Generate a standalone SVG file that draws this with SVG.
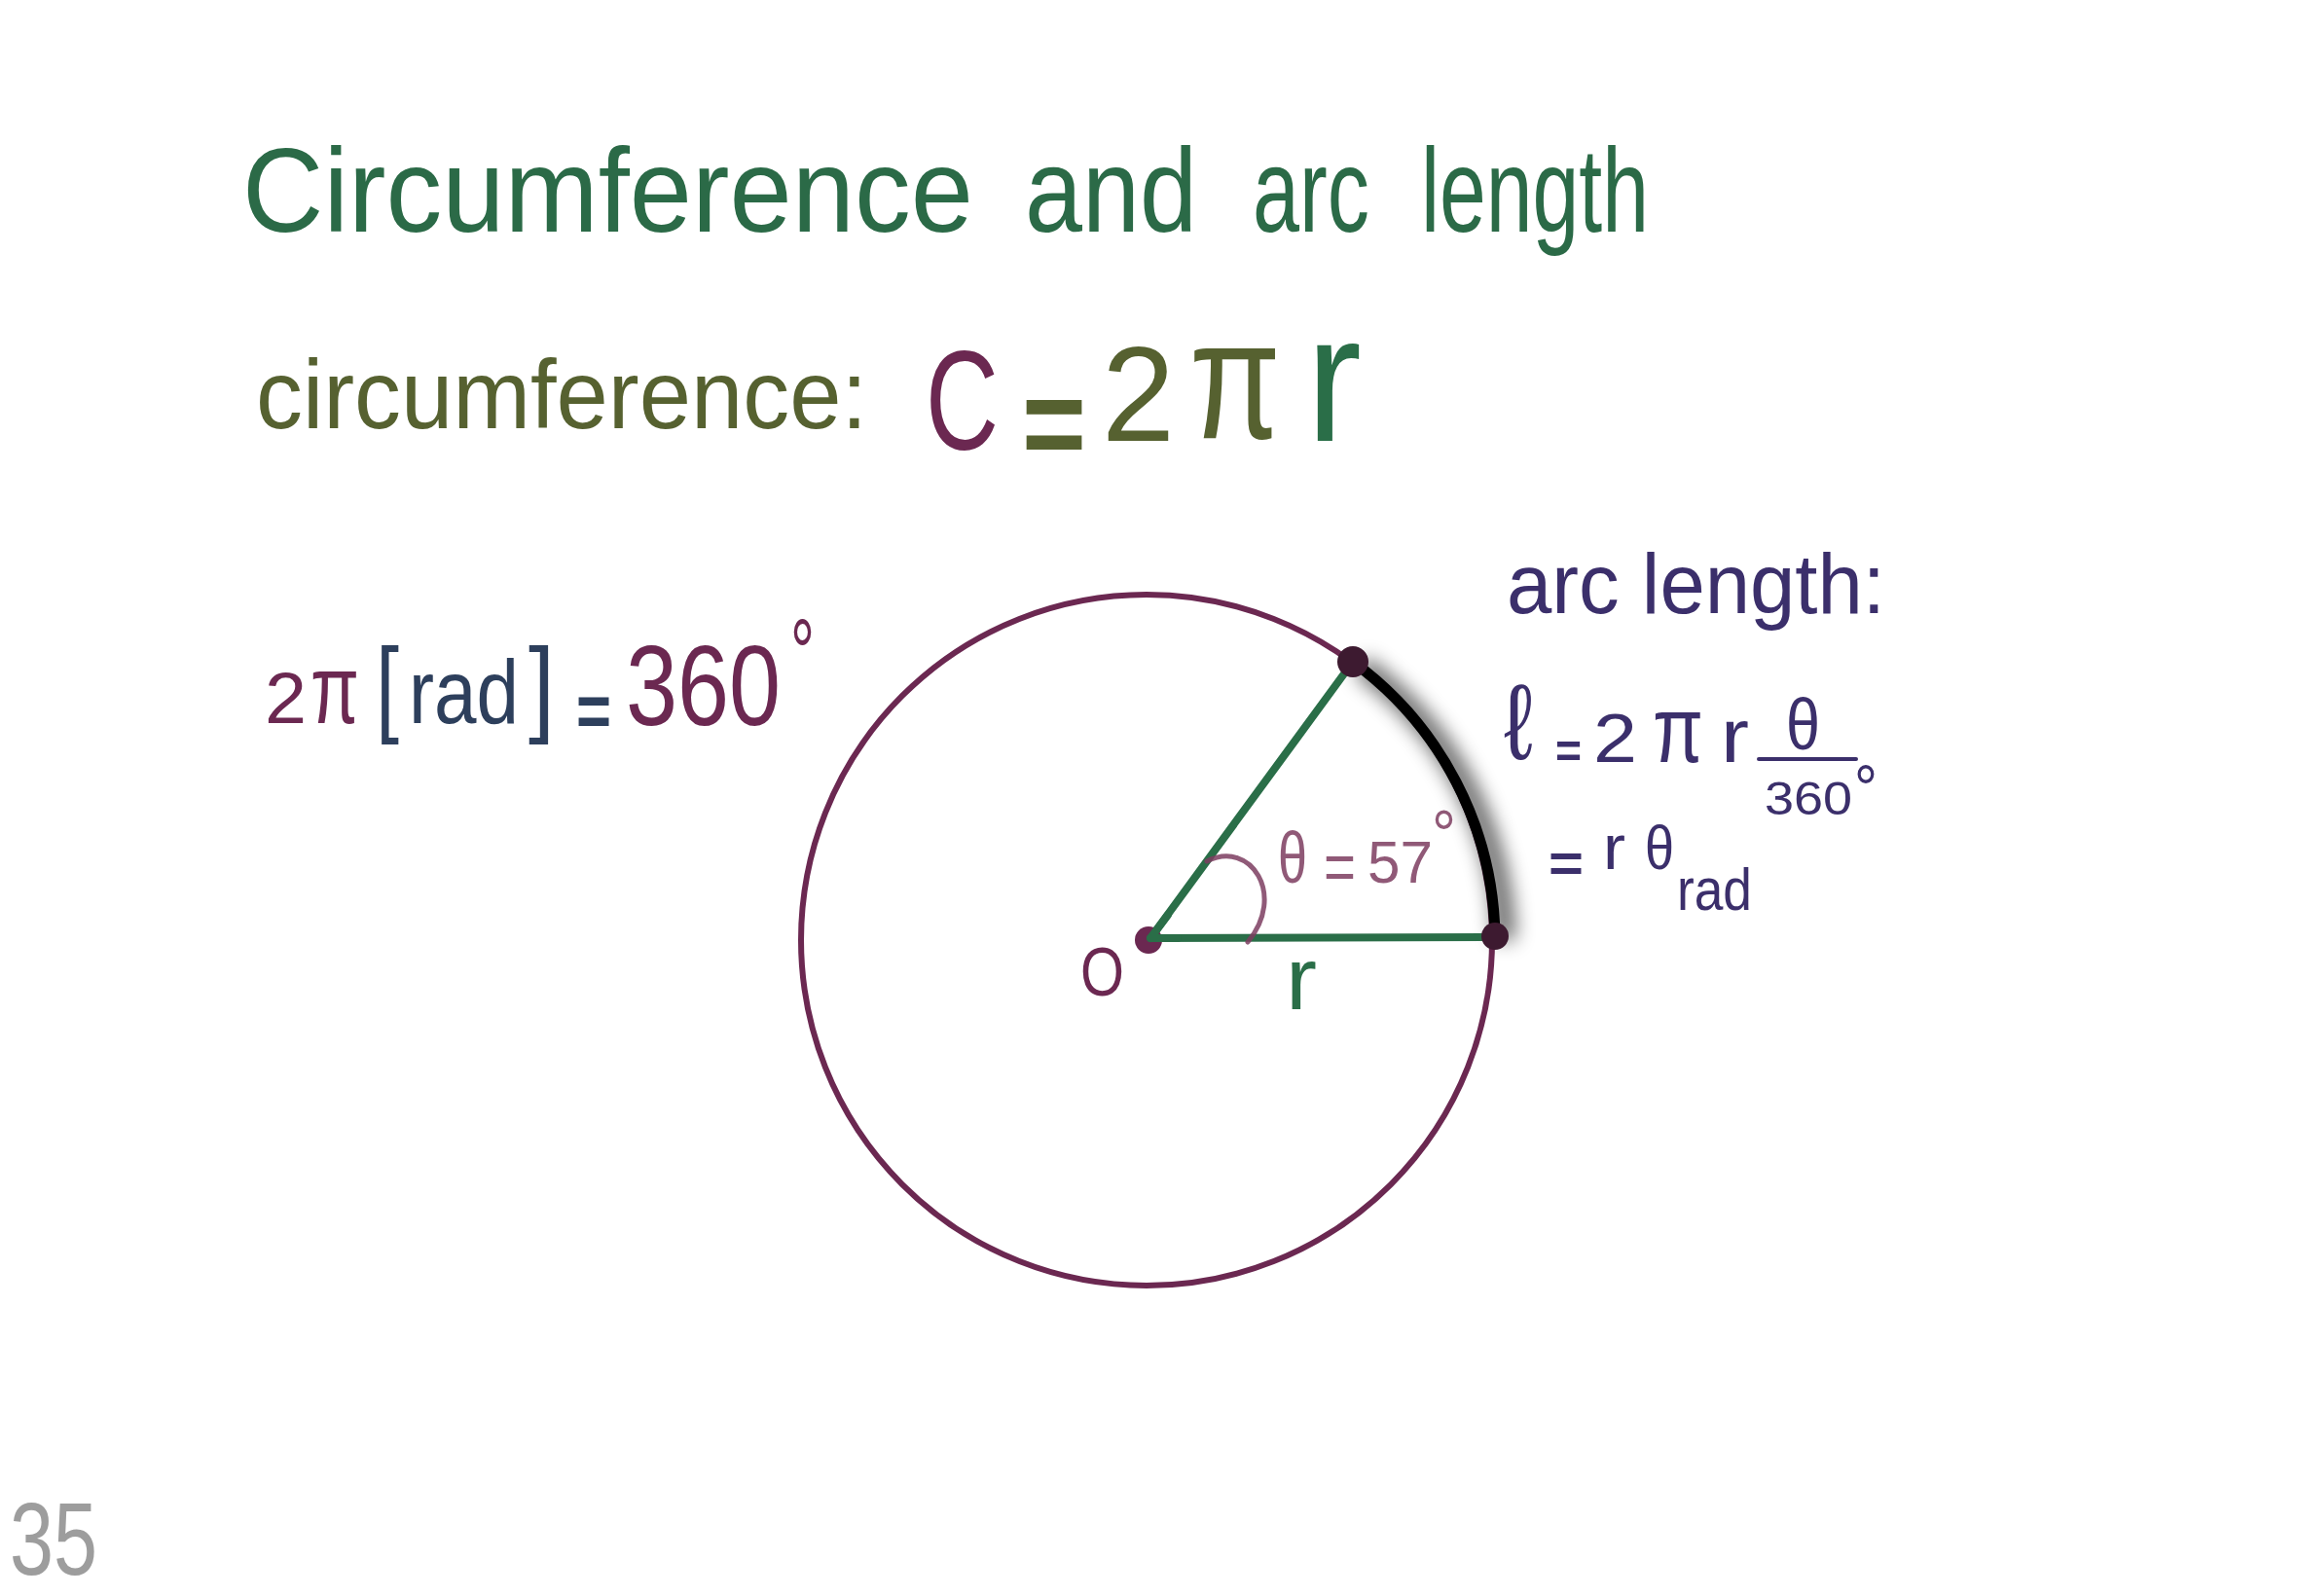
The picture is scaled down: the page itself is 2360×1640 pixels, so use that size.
<svg xmlns="http://www.w3.org/2000/svg" width="2360" height="1640" viewBox="0 0 2360 1640">
  <style>
    text { font-family: "Liberation Sans", Arial, sans-serif; }
    .title { fill: #2b6a47; font-size: 122px; }
    .olive { fill: #566130; }
    .maroon { fill: #6b2851; }
    .navy { fill: #2d3f5c; }
    .purple { fill: #3b2f6b; }
    .green { fill: #2a6e48; }
    .pencil { fill: #7d3d60; }
    .gray { fill: #8c8c8c; }
    .eq { font-weight: bold; }
  </style>
  <defs>
    <filter id="blur" x="-50%" y="-50%" width="200%" height="200%">
      <feGaussianBlur stdDeviation="10"/>
    </filter>
  </defs>
  <rect width="2360" height="1640" fill="#ffffff"/>

  <g id="title">
    <text class="title" x="249" y="238" textLength="751" lengthAdjust="spacingAndGlyphs">Circumference</text>
    <text class="title" x="1053" y="238" textLength="177" lengthAdjust="spacingAndGlyphs">and</text>
    <text class="title" x="1287" y="238" textLength="120" lengthAdjust="spacingAndGlyphs">arc</text>
    <text class="title" x="1460" y="238" textLength="234" lengthAdjust="spacingAndGlyphs">length</text>
  </g>

  <g id="circumference-formula">
    <text class="olive" x="263" y="440" font-size="100" textLength="628" lengthAdjust="spacingAndGlyphs">circumference:</text>
    <text class="maroon" x="951" y="462" font-size="145" textLength="75" lengthAdjust="spacingAndGlyphs">C</text>
    <text class="olive eq" x="1050" y="481" font-size="136" textLength="66" lengthAdjust="spacingAndGlyphs">=</text>
    <text class="olive" x="1132" y="453" font-size="140" textLength="75" lengthAdjust="spacingAndGlyphs">2</text>
    <text class="olive" x="1222" y="450" font-size="175" textLength="94" lengthAdjust="spacingAndGlyphs">π</text>
    <text class="green" x="1342" y="453" font-size="185" textLength="57" lengthAdjust="spacingAndGlyphs">r</text>
  </g>

  <g id="radian-equation">
    <text class="maroon" x="272" y="743" font-size="74" textLength="43" lengthAdjust="spacingAndGlyphs">2</text>
    <text class="maroon" x="319" y="743" font-size="100" textLength="50" lengthAdjust="spacingAndGlyphs">π</text>
    <text class="navy" x="386" y="742" font-size="110" textLength="24" lengthAdjust="spacingAndGlyphs">[</text>
    <text class="navy" transform="translate(420,743) scale(0.85,1)" font-size="92">rad</text>
    <text class="navy" x="543" y="742" font-size="110" textLength="27" lengthAdjust="spacingAndGlyphs">]</text>
    <text class="navy eq" x="592" y="757" font-size="77" textLength="36" lengthAdjust="spacingAndGlyphs">=</text>
    <text class="maroon" transform="translate(643,745) scale(0.822,1)" font-size="116">360</text>
    <text class="maroon" x="812" y="704" font-size="96" textLength="25" lengthAdjust="spacingAndGlyphs">°</text>
  </g>

  <g id="arc-length-formula">
    <text class="purple" x="1548" y="630" font-size="88" textLength="389" lengthAdjust="spacingAndGlyphs">arc length:</text>
    <text class="purple" x="1545" y="780" font-size="110" textLength="30" lengthAdjust="spacingAndGlyphs">ℓ</text>
    <text class="purple eq" x="1598" y="789" font-size="50" textLength="27" lengthAdjust="spacingAndGlyphs">=</text>
    <text class="purple" x="1637" y="783" font-size="70" textLength="45" lengthAdjust="spacingAndGlyphs">2</text>
    <text class="purple" x="1698" y="783" font-size="96" textLength="52" lengthAdjust="spacingAndGlyphs">π</text>
    <text class="purple" x="1768" y="783" font-size="77" textLength="29" lengthAdjust="spacingAndGlyphs">r</text>
    <text class="purple" x="1835" y="770" font-size="75" textLength="35" lengthAdjust="spacingAndGlyphs">θ</text>
    <line x1="1807" y1="780" x2="1907" y2="780" stroke="#3b2f6b" stroke-width="4" stroke-linecap="round"/>
    <text class="purple" x="1813" y="837" font-size="48" textLength="90" lengthAdjust="spacingAndGlyphs">360</text>
    <text class="purple" x="1905" y="834" font-size="68" textLength="24" lengthAdjust="spacingAndGlyphs">°</text>
    <text class="purple eq" x="1591" y="906" font-size="55" textLength="36" lengthAdjust="spacingAndGlyphs">=</text>
    <text class="purple" x="1647" y="893" font-size="64" textLength="23" lengthAdjust="spacingAndGlyphs">r</text>
    <text class="purple" x="1690" y="893" font-size="63" textLength="30" lengthAdjust="spacingAndGlyphs">θ</text>
    <text class="purple" x="1723" y="935" font-size="62" textLength="77" lengthAdjust="spacingAndGlyphs">rad</text>
  </g>

  <g id="circle-diagram">
    <circle cx="1178" cy="966" r="355" fill="none" stroke="#6b2851" stroke-width="6"/>
    <path d="M1398,684 A356,356 0 0 1 1546,966" fill="none" stroke="#000" stroke-width="22" opacity="0.6" filter="url(#blur)"/>
    <path d="M1390,680 A356,356 0 0 1 1536,962" fill="none" stroke="#000000" stroke-width="11" stroke-linecap="round"/>
    <line x1="1182" y1="964" x2="1390" y2="680" stroke="#2a6e48" stroke-width="8" stroke-linecap="round"/>
    <line x1="1182" y1="964" x2="1536" y2="963" stroke="#2a6e48" stroke-width="8" stroke-linecap="round"/>
    <circle cx="1180" cy="966" r="14" fill="#6b2851"/>
    <line x1="1182" y1="964" x2="1200" y2="940" stroke="#2a6e48" stroke-width="8" stroke-linecap="round"/>
    <line x1="1182" y1="964" x2="1210" y2="964" stroke="#2a6e48" stroke-width="8" stroke-linecap="round"/>
    <circle cx="1390" cy="680" r="16" fill="#3d1a30"/>
    <circle cx="1536" cy="962" r="14" fill="#3d1a30"/>
    <path d="M1240,885 C1285,862 1322,920 1282,968" fill="none" stroke="#7d3d60" stroke-width="5" stroke-linecap="round" opacity="0.85"/>
    <text class="pencil" x="1313" y="907" font-size="74" textLength="30" lengthAdjust="spacingAndGlyphs" opacity="0.85">θ</text>
    <text class="pencil" x="1360" y="915" font-size="70" textLength="33" lengthAdjust="spacingAndGlyphs" opacity="0.85">=</text>
    <text class="pencil" x="1405" y="907" font-size="61" textLength="67" lengthAdjust="spacingAndGlyphs" opacity="0.85">57</text>
    <text class="pencil" x="1471" y="882" font-size="70" textLength="25" lengthAdjust="spacingAndGlyphs" opacity="0.85">°</text>
    <text class="maroon" x="1110" y="1023" font-size="70" textLength="45" lengthAdjust="spacingAndGlyphs">O</text>
    <text class="green" x="1321" y="1037" font-size="90" textLength="32" lengthAdjust="spacingAndGlyphs">r</text>
  </g>

  <g id="page-number">
    <text class="gray" x="10" y="1618" font-size="106" textLength="90" lengthAdjust="spacingAndGlyphs" opacity="0.85">35</text>
  </g>
</svg>
